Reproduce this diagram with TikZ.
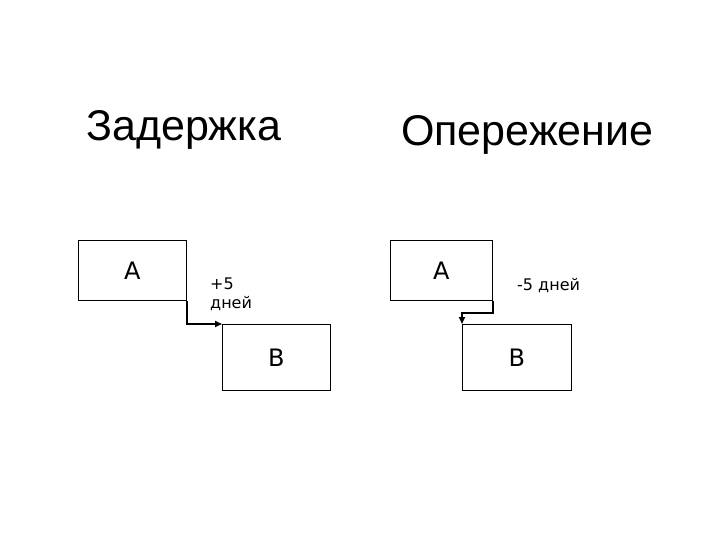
\documentclass[tikz,border=0pt]{standalone}
\usepackage{fontspec}
\setmainfont{DejaVu Sans}
\newfontfamily\titlefont{Liberation Sans}
\usetikzlibrary{arrows.meta}
\tikzset{
  task/.style={draw, line width=0.8pt, minimum width=108pt, minimum height=60pt, inner sep=0pt, anchor=north west, font=\fontsize{24}{28}\selectfont},
  link/.style={line width=1.6pt, -{Triangle[length=7pt,width=6pt]}},
  ttl/.style={anchor=base west, inner sep=0pt, font=\titlefont\fontsize{43}{48}\selectfont},
  lbl/.style={anchor=base west, inner sep=0pt, align=left, font=\fontsize{16}{15}\selectfont}
}
\begin{document}
\begin{tikzpicture}[x=1pt,y=-1pt]
\useasboundingbox (0,0) rectangle (720,540);
\node[ttl] (t1) at (86,141) {Задержка};
\node[ttl] (t2) at (401,146) {Опережение};
\node[task] (a1) at (78,240) {A};
\node[task, minimum height=66pt] (b1) at (222,324) {B};
\node[task, minimum width=102pt] (a2) at (390,240) {A};
\node[task, minimum width=109pt, minimum height=66pt] (b2) at (462,324) {B};
\draw[link] (a1.south east) |- (b1.north west);
\draw[link] (a2.south east) -- ++(0,12) -| (b2.north west);
\node[lbl] (l1) at (210,308) {+5\\[4pt]дней};
\node[lbl] (l2) at (517,290) {-5 дней};
\end{tikzpicture}
\end{document}
